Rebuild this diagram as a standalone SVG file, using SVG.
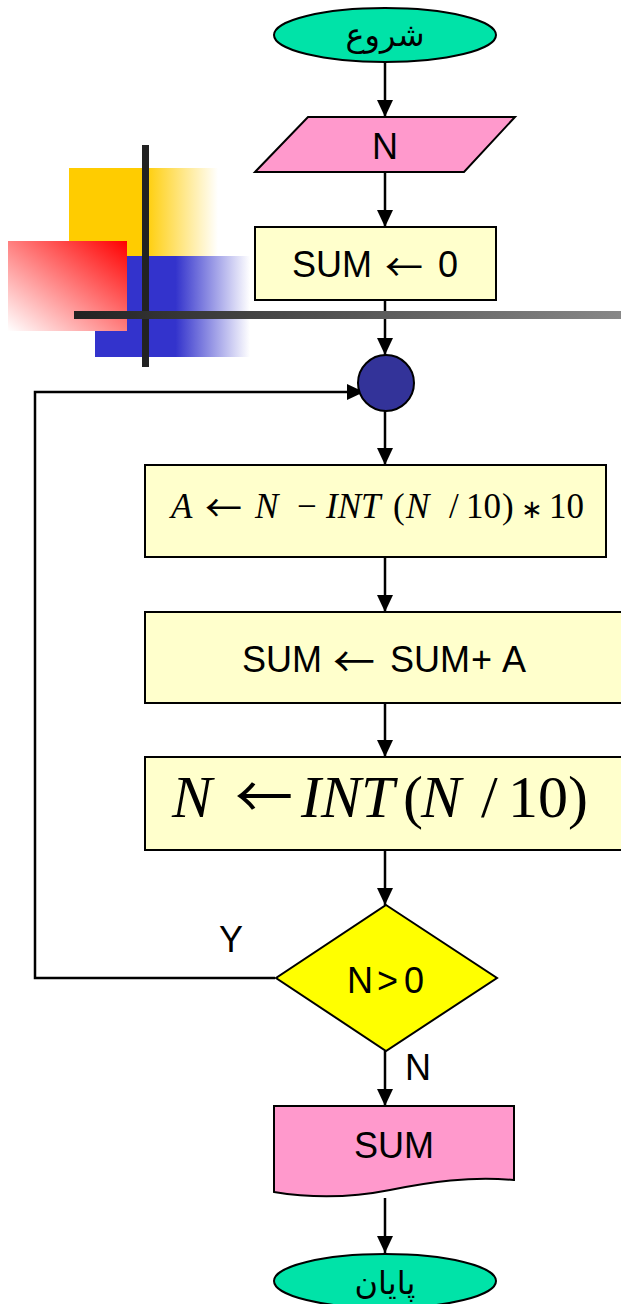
<svg xmlns="http://www.w3.org/2000/svg" width="621" height="1304" viewBox="0 0 621 1304">
<style>
.term{fill:#00E3A8;stroke:#000;stroke-width:2}
.box{fill:#FFFFCC;stroke:#000;stroke-width:2}
.pink{fill:#FF99CC;stroke:#000;stroke-width:2}
.lbl{font-family:"Liberation Sans",Arial,sans-serif;font-size:36px;fill:#000}
.math{font-family:"Liberation Serif","Times New Roman",serif;fill:#000}
.it{font-style:italic}
.arw{font-family:"Noto Sans CJK JP","DejaVu Sans",sans-serif;font-style:normal;font-weight:normal}
.ast{font-family:"DejaVu Sans",sans-serif;font-style:normal}
.ar{font-family:"DejaVu Sans",sans-serif;font-size:32px;fill:#000}
.conn{stroke:#000;stroke-width:2.5;fill:none}
</style>
<defs>
<marker id="ah" viewBox="0 0 17 16" refX="17" refY="8" markerWidth="17" markerHeight="16" markerUnits="userSpaceOnUse" orient="auto">
<path d="M0,0 L17,8 L0,16 z" fill="#000"/>
</marker>
<linearGradient id="gy" x1="0" y1="0" x2="1" y2="0"><stop offset="0" stop-color="#FFCC00"/><stop offset="0.5" stop-color="#FFCC00"/><stop offset="1" stop-color="#FFFFFF"/></linearGradient>
<linearGradient id="gb" x1="0" y1="0" x2="1" y2="0"><stop offset="0" stop-color="#3333CC"/><stop offset="0.52" stop-color="#3333CC"/><stop offset="1" stop-color="#FFFFFF"/></linearGradient>
<linearGradient id="gr" x1="1" y1="0" x2="0" y2="1"><stop offset="0" stop-color="#FF0000"/><stop offset="1" stop-color="#FFFFFF"/></linearGradient>
<linearGradient id="gk" x1="0" y1="0" x2="1" y2="0"><stop offset="0" stop-color="#222222"/><stop offset="1" stop-color="#888888"/></linearGradient>
</defs>

<g id="decoration">
<rect x="69" y="168" width="149" height="89" fill="url(#gy)"/>
<rect x="95" y="256" width="155" height="101" fill="url(#gb)"/>
<rect x="8" y="241" width="119" height="90" fill="url(#gr)"/>
<rect x="142" y="145" width="7" height="222" fill="#222"/>
</g>

<g id="connectors">
<line class="conn" x1="385" y1="63" x2="385" y2="117" marker-end="url(#ah)"/>
<line class="conn" x1="385" y1="172" x2="385" y2="227" marker-end="url(#ah)"/>
<line class="conn" x1="385" y1="300" x2="385" y2="355" marker-end="url(#ah)"/>
<line class="conn" x1="385" y1="411" x2="385" y2="465" marker-end="url(#ah)"/>
<line class="conn" x1="385" y1="557" x2="385" y2="612" marker-end="url(#ah)"/>
<line class="conn" x1="385" y1="703" x2="385" y2="757" marker-end="url(#ah)"/>
<line class="conn" x1="385" y1="850" x2="385" y2="905" marker-end="url(#ah)"/>
<line class="conn" x1="385" y1="1051" x2="385" y2="1106" marker-end="url(#ah)"/>
<line class="conn" x1="385" y1="1198" x2="385" y2="1253" marker-end="url(#ah)"/>
<path class="conn" d="M275,978 H35 V392 H364" stroke-width="2.8" marker-end="url(#ah)"/>
<text class="lbl" x="231" y="952" text-anchor="middle">Y</text>
<text class="lbl" x="418" y="1080" text-anchor="middle" font-size="34">N</text>
</g>

<rect id="bar" x="74" y="311" width="547" height="8" fill="url(#gk)"/>

<g id="start">
<ellipse class="term" cx="385" cy="35" rx="111" ry="27"/>
<text class="ar" x="385" y="46" text-anchor="middle">شروع</text>
</g>

<g id="input">
<polygon class="pink" points="308,117 515,117 464,172 255,172"/>
<text class="lbl" x="385" y="159" text-anchor="middle" font-size="34">N</text>
</g>

<g id="init">
<rect class="box" x="255" y="227" width="241" height="73"/>
<text class="lbl" y="277"><tspan x="292">SUM</tspan><tspan class="arw" x="385" y="281" font-size="38">←</tspan><tspan x="438" y="277">0</tspan></text>
</g>

<g id="junction">
<circle cx="386" cy="383" r="28" fill="#333399" stroke="#000" stroke-width="2"/>
</g>

<g id="stepA">
<rect class="box" x="145" y="465" width="461" height="92"/>
<text class="math" y="518" font-size="35"><tspan class="it" x="171">A</tspan><tspan class="arw" x="205" y="522" font-size="37">←</tspan><tspan class="it" x="255" y="518">N</tspan><tspan x="297">−</tspan><tspan class="it" x="326">INT</tspan><tspan x="393">(</tspan><tspan class="it" x="406">N</tspan><tspan x="449">/</tspan><tspan x="466">10</tspan><tspan x="502">)</tspan><tspan class="ast" x="521" font-size="26">∗</tspan><tspan x="549">10</tspan></text>
</g>

<g id="stepSum">
<rect class="box" x="145" y="612" width="480" height="91"/>
<text class="lbl" y="672"><tspan x="242">SUM</tspan><tspan class="arw" x="333" y="677" font-size="42">←</tspan><tspan x="390" y="672">SUM</tspan><tspan x="471">+</tspan><tspan x="502">A</tspan></text>
</g>

<g id="stepN">
<rect class="box" x="145" y="757" width="480" height="93"/>
<text class="math" y="817" font-size="60"><tspan class="it" x="172">N</tspan><tspan class="arw" x="235" y="818" font-size="58">←</tspan><tspan class="it" x="301" y="817">INT</tspan><tspan x="403">(</tspan><tspan class="it" x="421">N</tspan><tspan x="481">/</tspan><tspan x="508">10</tspan><tspan x="568">)</tspan></text>
</g>

<g id="decision">
<polygon points="386,905 497,978 386,1051 276,978" fill="#FFFF00" stroke="#000" stroke-width="2"/>
<text class="lbl" y="993"><tspan x="347">N</tspan><tspan x="377">&gt;</tspan><tspan x="404">0</tspan></text>
</g>

<g id="output">
<path class="pink" d="M274,1106 H514 V1180 C470,1176 430,1182 390,1190 C350,1198 310,1198 274,1192 Z"/>
<text class="lbl" x="394" y="1158" text-anchor="middle">SUM</text>
</g>

<g id="end">
<ellipse class="term" cx="385" cy="1281" rx="111" ry="27"/>
<text class="ar" x="385" y="1294" text-anchor="middle" font-size="30">پایان</text>
</g>
</svg>
